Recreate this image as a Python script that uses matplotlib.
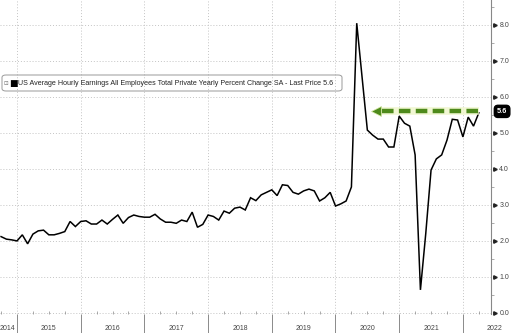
import matplotlib
matplotlib.use("Agg")
import matplotlib.pyplot as plt
import matplotlib.transforms as mtransforms
from matplotlib.ticker import MultipleLocator, FixedLocator, NullFormatter
from matplotlib.patches import FancyBboxPatch

# ---- data (monthly, Sep 2014 .. Mar 2022), YoY % ----
start_year, start_month = 2014, 9
values = [
    2.12, 2.05, 2.03, 2.00,                                                   # 2014 Sep-Dec
    2.17, 1.92, 2.19, 2.28, 2.30, 2.17, 2.17, 2.21, 2.26, 2.54, 2.40, 2.54,   # 2015
    2.56, 2.47, 2.47, 2.58, 2.47, 2.60, 2.72, 2.49, 2.65, 2.72, 2.68, 2.66,   # 2016
    2.66, 2.74, 2.61, 2.52, 2.52, 2.49, 2.58, 2.54, 2.80, 2.38, 2.46, 2.72,   # 2017
    2.68, 2.58, 2.83, 2.77, 2.91, 2.94, 2.86, 3.20, 3.12, 3.28, 3.35, 3.42,   # 2018
    3.26, 3.56, 3.54, 3.35, 3.30, 3.39, 3.44, 3.39, 3.11, 3.20, 3.35, 2.97,   # 2019
    3.03, 3.11, 3.50, 8.05, 6.56, 5.08, 4.94, 4.83, 4.83, 4.61, 4.61, 5.47,   # 2020
    5.27, 5.19, 4.39, 0.64, 2.20, 3.97, 4.28, 4.39, 4.80, 5.38, 5.36, 4.89,   # 2021
    5.44, 5.19, 5.56,                                                         # 2022
]
last_price = 5.6
year_labels = ["2014", "2015", "2016", "2017", "2018", "2019", "2020", "2021", "2022"]
y_ticks = [0, 1, 2, 3, 4, 5, 6, 7, 8]
legend_text = ("US Average Hourly Earnings All Employees Total Private "
               "Yearly Percent Change SA - Last Price 5.6")
arrow_tip_index = 70   # month index (Jul 2020) where the green arrow head sits

# month-end positions in fractional years
xs = []
for i in range(len(values)):
    m = start_month - 1 + i
    y = start_year + m // 12
    mm = m % 12 + 1
    xs.append(y + mm / 12.0)

FONT = ["Liberation Sans", "DejaVu Sans"]
plt.rcParams["font.family"] = FONT

W, H = 512, 333
fig = plt.figure(figsize=(W / 100, H / 100), dpi=100)
ax_left, ax_right, ax_top, ax_bottom = 0, 491, 0, 314
ax = fig.add_axes([ax_left / W, (H - ax_bottom) / H,
                   (ax_right - ax_left) / W, (ax_bottom - ax_top) / H])

px_per_year = 63.7
x_left = 2015 - 17 / px_per_year
x_right = 2015 + (491 - 17) / px_per_year
ax.set_xlim(x_left, x_right)
ax.set_ylim(-0.03, 8.0 + 25 / 36.0)

grid_kw = dict(color="#c4c4c4", lw=0.7, ls=(0, (1, 2)))
for yv in y_ticks:
    ax.axhline(yv, zorder=0, **grid_kw)
for yr in range(2015, 2023):
    ax.axvline(yr, zorder=0, **grid_kw)

ax.plot(xs, values, color="black", lw=1.1, zorder=3, solid_joinstyle="miter")

# green dashed arrow pointing left at last value
x_end = xs[-1]
x_tip = xs[arrow_tip_index]
ax.plot([x_tip + 0.1, x_end], [last_price, last_price], color="#eef5c8", lw=5.5,
        alpha=0.8, zorder=4, solid_capstyle="butt")
ax.plot([x_tip + 0.15, x_end], [last_price, last_price], color="#4e8a1c", lw=3.2,
        ls=(0, (2.6, 1.2)), zorder=5, solid_capstyle="butt")
ax.plot([x_tip + 0.06], [last_price], marker="<", ms=7.5, color="#4e8a1c",
        mec="#d6e9a4", mew=0.5, zorder=6)

# spines
for s in ["left", "top", "bottom"]:
    ax.spines[s].set_visible(False)
ax.spines["right"].set_color("#888888")
ax.spines["right"].set_linewidth(0.8)

# y axis on right
ax.yaxis.tick_right()
ax.set_yticks(y_ticks)
ax.set_yticklabels([f"{v:.1f}" for v in y_ticks])
ax.yaxis.set_minor_locator(MultipleLocator(0.5))
ax.tick_params(axis="y", which="major", length=0, pad=6, labelsize=5,
               labelcolor="#444444")
ax.tick_params(axis="y", which="minor", length=2, width=0.5, color="#888888",
               direction="out")
trans_y = mtransforms.blended_transform_factory(ax.transAxes, ax.transData)
ax.plot([1.008] * len(y_ticks), y_ticks, ls="none", marker=">", ms=2.5,
        color="#222222", transform=trans_y, clip_on=False, zorder=6)

# x axis: year separators (long ticks) + quarter minor ticks, year labels centred
ax.set_xticks(list(range(2015, 2023)))
ax.xaxis.set_major_formatter(NullFormatter())
ax.xaxis.set_minor_locator(FixedLocator([y + q / 4 for y in range(2014, 2023) for q in range(1, 4)]))
ax.tick_params(axis="x", which="major", length=14, width=0.6, color="#777777",
               direction="out")
ax.tick_params(axis="x", which="minor", length=2, width=0.5, color="#888888",
               direction="in")
trans_x = mtransforms.blended_transform_factory(ax.transData, ax.transAxes)
for lab in year_labels:
    yr = int(lab)
    xc = yr + 0.5
    ha = "center"
    if xc < x_left:
        xc = x_left
        ha = "left"
    ax.text(xc, -0.045, lab, transform=trans_x, ha=ha, va="center",
            fontsize=5, color="#444444", clip_on=False)

# legend box
ly = (313 - 82) / 314
ax.text(4 / 491, ly, "\u22a1", transform=ax.transAxes, fontsize=4,
        color="#777777", va="center", ha="left", family=["DejaVu Sans"])
ax.text(9 / 491, ly, "\u25a0", transform=ax.transAxes, fontsize=6.5,
        color="black", va="center", ha="left", family=["DejaVu Sans"])
ax.text(18.5 / 491, ly, legend_text, transform=ax.transAxes,
        fontsize=5.1, color="#222222", va="center", ha="left")
box = FancyBboxPatch((2 / 491, (313 - 90) / 314), 340 / 491, 16 / 314,
                     boxstyle="round,pad=0,rounding_size=0.008",
                     transform=ax.transAxes, fc="none", ec="#9a9a9a", lw=0.7,
                     clip_on=False, zorder=7)
ax.add_patch(box)

# last price tag
ax.text(1.008 + 0.004, last_price, f"{last_price:.1f}", transform=trans_y,
        ha="left", va="center", fontsize=5.3, color="white", fontweight="bold",
        clip_on=False, zorder=8,
        bbox=dict(boxstyle="round,pad=0.35,rounding_size=0.5", fc="black", ec="black"))

fig.savefig("out.png", dpi=100)
